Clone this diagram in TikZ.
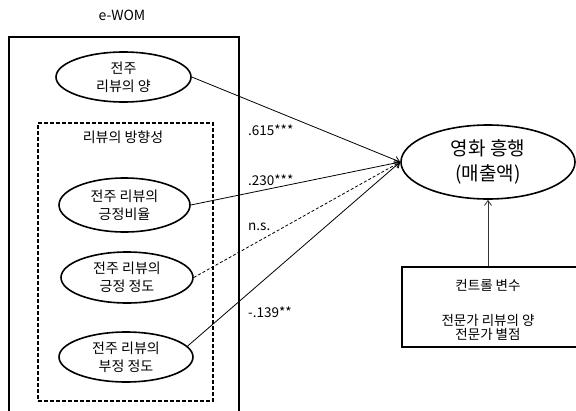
\documentclass[tikz,border=0pt]{standalone}
\usepackage{fontspec}
\setmainfont{Noto Sans CJK KR}
\usetikzlibrary{shapes.geometric,arrows.meta}
\begin{document}
\begin{tikzpicture}[x=1pt,y=-1pt,
  oval/.style={ellipse,draw,line width=1.6pt,inner sep=0pt,align=center,font=\fontsize{14}{18}\selectfont},
  conn/.style={line width=0.8pt,-{Straight Barb[length=5pt,width=7pt]}},
  lbl/.style={anchor=west,font=\fontsize{13.5}{15}\selectfont,inner sep=0pt},
  frame/.style={draw,line width=1.6pt,inner sep=0pt}]
\clip (0,0) rectangle (576,410);
\fill[white] (0,0) rectangle (576,410);
% title
\node[font=\fontsize{14}{16}\selectfont] (title) at (122,15) {e-WOM};
% outer box
\node[frame,minimum width=230pt,minimum height=384pt,anchor=north west] (ewom) at (8,36) {};
% dashed group
\node[frame,dash pattern=on 4pt off 2pt,minimum width=175pt,minimum height=278pt,anchor=north west] (dir) at (37,122) {};
\node[font=\fontsize{14}{16}\selectfont] (dirlbl) at (123,137) {리뷰의 방향성};
% ellipses
\node[oval,minimum width=135pt,minimum height=50pt] (e1) at (123.5,77) {전주\\리뷰의 양};
\node[oval,minimum width=131pt,minimum height=54pt] (e2) at (124.5,205) {전주 리뷰의\\긍정비율};
\node[oval,minimum width=132pt,minimum height=51pt] (e3) at (127,277.5) {전주 리뷰의\\긍정 정도};
\node[oval,minimum width=134pt,minimum height=50pt] (e4) at (126,357) {전주 리뷰의\\부정 정도};
% target
\node[ellipse,draw,line width=1.6pt,inner sep=0pt,align=center,font=\fontsize{19}{25}\selectfont,minimum width=174pt,minimum height=74pt] (target) at (488,162) {영화 흥행\\(매출액)};
% control box
\node[frame,minimum width=180pt,minimum height=80pt] (ctrlbox) at (492,307) {};
\node[align=center,font=\fontsize{13.5}{14}\selectfont] (ctrltxt) at (488,310) {컨트롤 변수\\[21pt]전문가 리뷰의 양\\전문가 별점};
% connectors
\draw[conn] (e1.east) -- (target.west);
\draw[conn] (e2.east) -- (target.west);
\draw[conn,dash pattern=on 3pt off 2pt] (e3.east) -- (target.west);
\draw[conn] (e4.10) -- (target.west);
\draw[conn,black!80] (ctrlbox.north -| target.south) -- (target.south);
% labels
\node[lbl] (l1) at (248,130) {.615***};
\node[lbl] (l2) at (248,180) {.230***};
\node[lbl] (l3) at (248,227) {n.s.};
\node[lbl] (l4) at (248,312) {-.139**};
\end{tikzpicture}
\end{document}
